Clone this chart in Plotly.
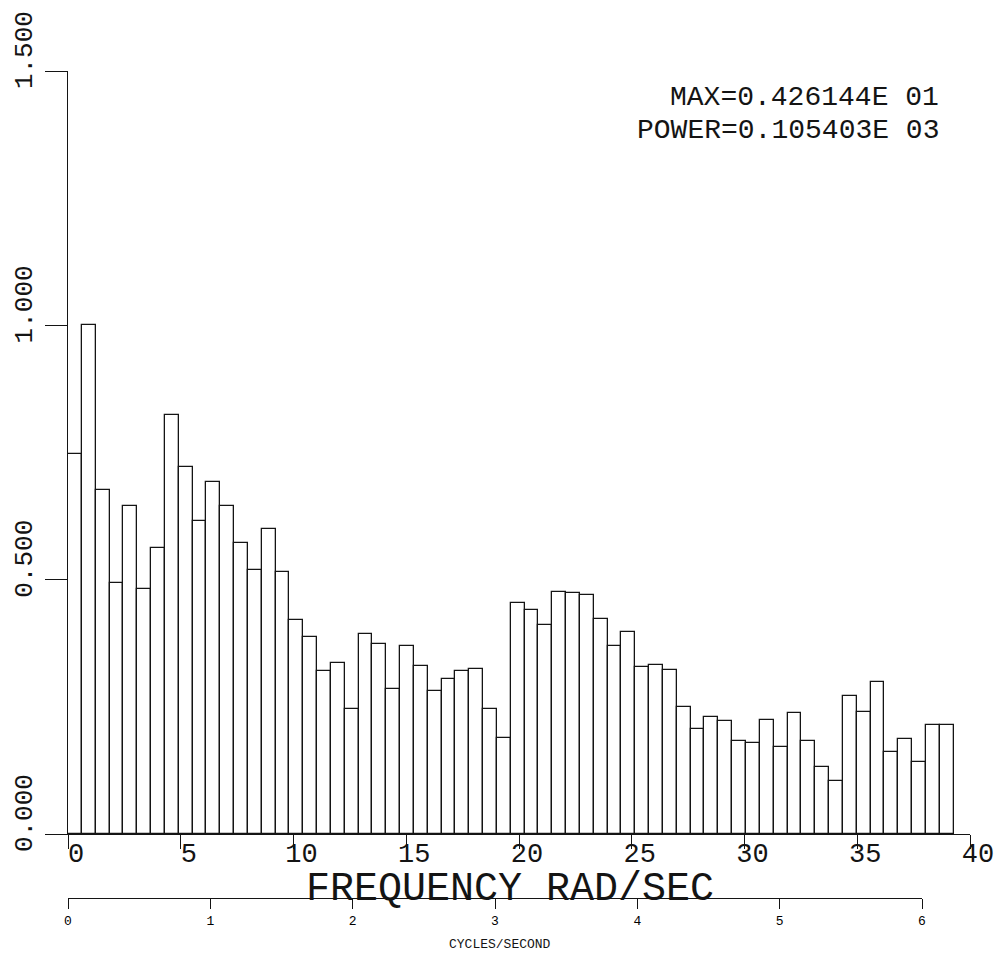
import numpy as np
import plotly.graph_objects as go

# ---- data (normalized spectral power per frequency bin) ----
N_BINS = 64
BIN_WIDTH = 2 * np.pi / 10.24          # rad/sec per bin
power = [
    0.748, 1.000, 0.677, 0.493, 0.645, 0.482, 0.562, 0.824, 0.722, 0.616,
    0.692, 0.645, 0.573, 0.519, 0.600, 0.515, 0.421, 0.387, 0.320, 0.337,
    0.245, 0.393, 0.374, 0.285, 0.369, 0.331, 0.281, 0.304, 0.320, 0.325,
    0.246, 0.188, 0.455, 0.441, 0.411, 0.476, 0.473, 0.470, 0.423, 0.370,
    0.397, 0.328, 0.332, 0.323, 0.250, 0.207, 0.230, 0.222, 0.183, 0.178,
    0.225, 0.171, 0.237, 0.182, 0.132, 0.105, 0.272, 0.240, 0.298, 0.161,
    0.187, 0.142, 0.215, 0.215,
]
freq_centers = (np.arange(N_BINS) + 0.5) * BIN_WIDTH

y_ticks = [0.0, 0.5, 1.0, 1.5]
y_tick_labels = ["0.000", "0.500", "1.000", "1.500"]
x_ticks = [0, 5, 10, 15, 20, 25, 30, 35, 40]
hz_ticks = [0, 1, 2, 3, 4, 5, 6]
max_text = "MAX=0.426144E 01"
power_text = "POWER=0.105403E 03"

FONT = "Liberation Mono"
INK = "#141414"

fig = go.Figure()
fig.add_trace(go.Bar(
    x=freq_centers, y=power, width=BIN_WIDTH,
    marker=dict(color="white", line=dict(color=INK, width=1.3)),
    showlegend=False, hoverinfo="skip",
))
# invisible trace to carry the cycles/second axis
fig.add_trace(go.Scatter(x=[0], y=[0], xaxis="x2", yaxis="y", mode="markers",
                         marker=dict(opacity=0), showlegend=False, hoverinfo="skip"))

# page body has an 8px default margin -> work in page pixels, subtract offset
OFF = 8
W, H = 1007 - OFF, 976 - OFF
ml, mr, mt, mb = 68 - OFF, 37, 71 - OFF, 78
plot_w = W - ml - mr
plot_h = H - mt - mb
y_dom0 = (H - mb - (834 - OFF)) / plot_h


def px(x):
    return (x - OFF - ml) / plot_w


def py(y):
    return (H - mb - (y - OFF)) / plot_h


fig.update_layout(
    width=W, height=H,
    margin=dict(l=ml, r=mr, t=mt, b=mb, autoexpand=False),
    paper_bgcolor="white", plot_bgcolor="rgba(0,0,0,0)",
    bargap=0,
    xaxis=dict(
        range=[0, 40], tickvals=x_ticks, ticks="outside", ticklen=14,
        tickcolor=INK, tickwidth=1.3,
        showline=True, linecolor=INK, linewidth=1.3,
        showgrid=False, zeroline=False, automargin=False,
        tickfont=dict(family=FONT, size=27, color=INK),
        ticklabelshift=8, ticklabelstandoff=-20,
        anchor="y",
    ),
    yaxis=dict(
        domain=[y_dom0, 1], range=[0, 1.5],
        tickvals=y_ticks, ticktext=y_tick_labels,
        ticks="outside", ticklen=22, tickcolor=INK, tickwidth=1.3,
        showline=True, linecolor=INK, linewidth=1.3,
        showgrid=False, zeroline=False, automargin=False,
        tickangle=-90,
        tickfont=dict(family=FONT, size=26, color=INK),
        ticklabelshift=-17, ticklabelstandoff=2,
        ticklabeloverflow="allow",
    ),
    xaxis2=dict(
        domain=[0, (922 - 68) / plot_w], range=[0, 6],
        anchor="free", position=0,
        tickvals=hz_ticks, ticks="outside", ticklen=10,
        tickcolor=INK, tickwidth=1.2,
        showline=True, linecolor=INK, linewidth=1.2,
        showgrid=False, zeroline=False, automargin=False,
        tickfont=dict(family=FONT, size=13, color="#000000"),
    ),
    annotations=[
        dict(text="FREQUENCY RAD/SEC", xref="paper", yref="paper",
             x=px(510), y=py(889), xanchor="center", yanchor="middle",
             showarrow=False, font=dict(family=FONT, size=40, color=INK)),
        dict(text=max_text, xref="paper", yref="paper",
             x=px(941), y=py(97),
             xanchor="right", yanchor="middle", showarrow=False,
             font=dict(family=FONT, size=28, color=INK)),
        dict(text=power_text, xref="paper", yref="paper",
             x=px(941), y=py(130),
             xanchor="right", yanchor="middle", showarrow=False,
             font=dict(family=FONT, size=28, color=INK)),
        dict(text="CYCLES/SECOND", xref="paper", yref="paper",
             x=px(500), y=py(944),
             xanchor="center", yanchor="middle", showarrow=False,
             font=dict(family=FONT, size=13, color=INK)),
    ],
)

fig.write_html("out.html")
